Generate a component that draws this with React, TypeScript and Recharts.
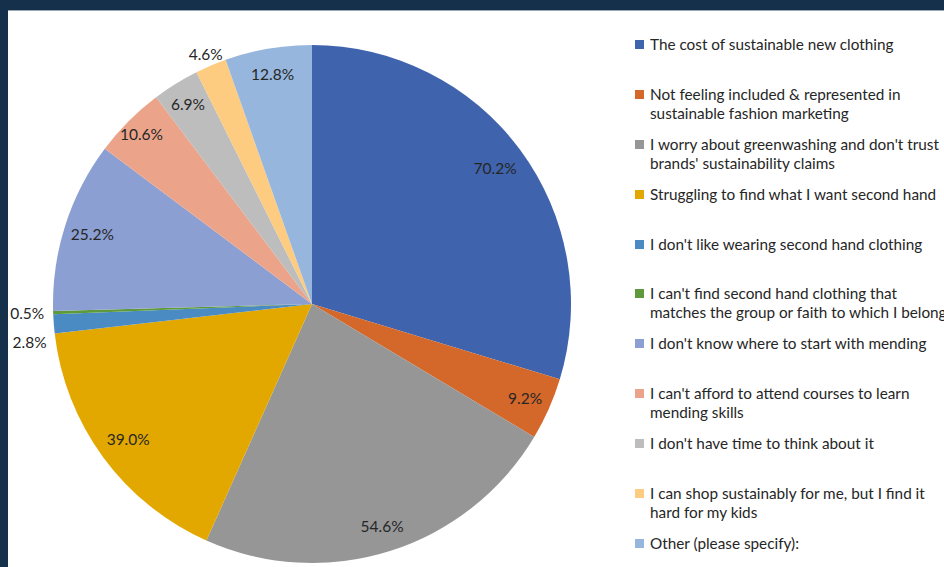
import React from "react";
import { PieChart, Pie, Cell, Legend } from "recharts";

const categories: string[] = [
  "The cost of sustainable new clothing",
  "Not feeling included & represented in\nsustainable fashion marketing",
  "I worry about greenwashing and don't trust\nbrands' sustainability claims",
  "Struggling to find what I want second hand",
  "I don't like wearing second hand clothing",
  "I can't find second hand clothing that\nmatches the group or faith to which I belong",
  "I don't know where to start with mending",
  "I can't afford to attend courses to learn\nmending skills",
  "I don't have time to think about it",
  "I can shop sustainably for me, but I find it\nhard for my kids",
  "Other (please specify):",
];

const values: number[] = [70.2, 9.2, 54.6, 39.0, 2.8, 0.5, 25.2, 10.6, 6.9, 4.6, 12.8];

const colors: string[] = [
  "#3F64AD",
  "#D4682B",
  "#969696",
  "#E3A800",
  "#4A8BC4",
  "#5E9A3B",
  "#8C9FD2",
  "#EBA48A",
  "#BDBDBD",
  "#FDCC81",
  "#96B6DD",
];

// label placement styling (fraction of outer radius, angular nudge in degrees)
const labelRadius: number[] = [0.88, 0.9, 0.9, 0.88, 1.1, 1.1, 0.89, 0.93, 0.91, 1.05, 0.9];
const labelNudge: number[] = [0, 0, 0, 0, 3.2, 0, 0, 0, 0, 0, 0];

const data = categories.map((name, i) => ({ name, value: values[i] }));

const FONT = "Lato, 'Open Sans', sans-serif";
const RAD = Math.PI / 180;

const renderLabel = (props: any) => {
  const { cx, cy, midAngle, outerRadius, index, value } = props;
  const r = outerRadius * labelRadius[index];
  const a = (midAngle + labelNudge[index]) * RAD;
  const x = cx + r * Math.cos(-a);
  const y = cy + r * Math.sin(-a);
  return (
    <text
      x={x}
      y={y}
      textAnchor="middle"
      dominantBaseline="central"
      fill="#262626"
      fontSize={15.5}
      fontFamily={FONT}
    >
      {value.toFixed(1)}%
    </text>
  );
};

const renderLegend = () => (
  <div style={{ fontFamily: FONT, fontSize: 15.3, color: "#262626" }}>
    {categories.map((c, i) => (
      <div
        key={i}
        style={{ height: 49.9, display: "flex", alignItems: "flex-start", whiteSpace: "pre", lineHeight: "19px" }}
      >
        <span
          style={{
            display: "inline-block",
            width: 9,
            height: 9,
            background: colors[i],
            marginTop: 5,
            marginRight: 6,
            flex: "none",
          }}
        />
        <span>{c}</span>
      </div>
    ))}
  </div>
);

export default function App() {
  return (
    <div
      style={{
        position: "absolute",
        left: 0,
        top: 0,
        width: 944,
        height: 567,
        background: "#15304A",
        overflow: "hidden",
      }}
    >
      <div
        style={{
          position: "absolute",
          left: 8,
          top: 10,
          width: 936,
          height: 557,
          background: "#FFFFFF",
          borderTop: "1px solid #9AA6B0",
          overflow: "hidden",
        }}
      >
        <PieChart width={936} height={557} margin={{ top: 0, right: 0, bottom: 0, left: 0 }}>
          <Pie
            data={data}
            dataKey="value"
            nameKey="name"
            cx={304}
            cy={293}
            outerRadius={259}
            startAngle={90}
            endAngle={-270}
            stroke="none"
            label={renderLabel}
            labelLine={false}
            isAnimationActive={false}
          >
            {data.map((d, i) => (
              <Cell key={i} fill={colors[i]} />
            ))}
          </Pie>
          <Legend
            content={renderLegend}
            wrapperStyle={{ position: "absolute", left: 627, top: 24, width: 340 }}
          />
        </PieChart>
      </div>
    </div>
  );
}
